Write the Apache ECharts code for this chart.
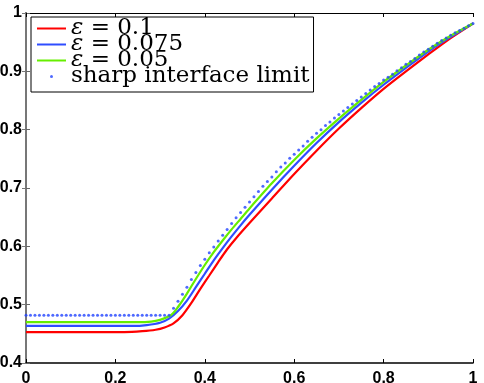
<!DOCTYPE html>
<html>
<head>
<meta charset="utf-8">
<script src="https://cdn.jsdelivr.net/npm/echarts@6/dist/echarts.min.js"></script>
<style>
  html, body { margin: 0; padding: 0; background: #fff; }
  #chart { width: 484px; height: 383px; }
</style>
</head>
<body>
<div id="chart"></div>
<script>
// values
var xTicks = [0, 0.2, 0.4, 0.6, 0.8, 1]
var yTicks = [0.4, 0.5, 0.6, 0.7, 0.8, 0.9, 1]

var names = ['ε = 0.1', 'ε = 0.075', 'ε = 0.05', 'sharp interface limit']
var colors = ['#ff0000', '#2f4dff', '#66ee00', '#2244ff']

var redX = [0, 0.22, 0.26, 0.29, 0.31, 0.33, 0.35, 0.37, 0.39, 0.41, 0.43, 0.45, 0.47, 0.50, 0.55, 0.60, 0.65, 0.70, 0.75, 0.80, 0.85, 0.90, 0.95, 1]
var redY = [0.453, 0.453, 0.4545, 0.457, 0.461, 0.468, 0.482, 0.503, 0.527, 0.550, 0.573, 0.595, 0.614, 0.640, 0.682, 0.724, 0.764, 0.802, 0.837, 0.870, 0.900, 0.929, 0.957, 0.982]

var blueX = [0, 0.24, 0.27, 0.30, 0.32, 0.34, 0.36, 0.38, 0.40, 0.42, 0.44, 0.46, 0.48, 0.50, 0.55, 0.60, 0.65, 0.70, 0.75, 0.80, 0.85, 0.90, 0.95, 1]
var blueY = [0.4635, 0.4635, 0.465, 0.469, 0.476, 0.489, 0.507, 0.530, 0.553, 0.576, 0.597, 0.617, 0.636, 0.654, 0.697, 0.738, 0.777, 0.813, 0.846, 0.877, 0.906, 0.934, 0.959, 0.982]

var greenX = [0, 0.25, 0.28, 0.30, 0.32, 0.33, 0.34, 0.35, 0.36, 0.38, 0.40, 0.42, 0.44, 0.46, 0.48, 0.50, 0.55, 0.60, 0.65, 0.70, 0.75, 0.80, 0.85, 0.90, 0.95, 1]
var greenY = [0.470, 0.470, 0.471, 0.474, 0.480, 0.486, 0.496, 0.507, 0.519, 0.544, 0.568, 0.590, 0.610, 0.629, 0.647, 0.665, 0.708, 0.748, 0.785, 0.819, 0.851, 0.882, 0.910, 0.937, 0.961, 0.982]

var sharpX = [0, 0.01, 0.02, 0.03, 0.04, 0.05, 0.06, 0.07, 0.08, 0.09,
  0.10, 0.11, 0.12, 0.13, 0.14, 0.15, 0.16, 0.17, 0.18, 0.19,
  0.20, 0.21, 0.22, 0.23, 0.24, 0.25, 0.26, 0.27, 0.28, 0.29,
  0.30, 0.31, 0.32, 0.33, 0.34, 0.35, 0.36, 0.37, 0.38, 0.39,
  0.40, 0.41, 0.42, 0.43, 0.44, 0.45, 0.46, 0.47, 0.48, 0.49,
  0.50, 0.51, 0.52, 0.53, 0.54, 0.55, 0.56, 0.57, 0.58, 0.59,
  0.60, 0.61, 0.62, 0.63, 0.64, 0.65, 0.66, 0.67, 0.68, 0.69,
  0.70, 0.71, 0.72, 0.73, 0.74, 0.75, 0.76, 0.77, 0.78, 0.79,
  0.80, 0.81, 0.82, 0.83, 0.84, 0.85, 0.86, 0.87, 0.88, 0.89,
  0.90, 0.91, 0.92, 0.93, 0.94, 0.95, 0.96, 0.97, 0.98, 0.99, 1]
var sharpY = [0.482, 0.482, 0.482, 0.482, 0.482, 0.482, 0.482, 0.482, 0.482, 0.482,
  0.482, 0.482, 0.482, 0.482, 0.482, 0.482, 0.482, 0.482, 0.482, 0.482,
  0.482, 0.482, 0.482, 0.482, 0.482, 0.482, 0.482, 0.482, 0.482, 0.482,
  0.482, 0.482, 0.482, 0.494, 0.506, 0.518, 0.530, 0.543, 0.555, 0.567,
  0.578, 0.589, 0.599, 0.609, 0.619, 0.629, 0.639, 0.649, 0.658, 0.667,
  0.676, 0.685, 0.694, 0.703, 0.711, 0.719, 0.728, 0.736, 0.743, 0.751,
  0.758, 0.765, 0.772, 0.780, 0.787, 0.794, 0.800, 0.807, 0.813, 0.820,
  0.826, 0.832, 0.838, 0.844, 0.850, 0.856, 0.862, 0.868, 0.874, 0.879,
  0.885, 0.890, 0.895, 0.901, 0.906, 0.912, 0.917, 0.922, 0.928, 0.933,
  0.938, 0.943, 0.948, 0.953, 0.957, 0.962, 0.966, 0.970, 0.974, 0.978, 0.982]

function pairs(xs, ys) {
  return xs.map(function (x, i) { return [x, ys[i]] })
}

var myChart = echarts.init(document.getElementById('chart'))

var labelFont = {
  color: '#000',
  fontFamily: 'Liberation Sans',
  fontWeight: 'bold',
  fontSize: 16
}

function lineSeries(i, xs, ys) {
  return {
    name: names[i],
    type: 'line',
    data: pairs(xs, ys),
    symbol: 'none',
    smooth: 0.25,
    lineStyle: { color: colors[i], width: 2.2 },
    itemStyle: { color: colors[i] },
    z: 2 + i
  }
}

var option = {
  animation: false,
  backgroundColor: '#fff',
  grid: { left: 26, right: 11, top: 13, bottom: 20, outerBoundsMode: 'none' },
  legend: {
    orient: 'vertical',
    left: 31,
    top: 17,
    padding: [0, 4, 4, 5],
    itemGap: -7,
    itemWidth: 29,
    itemHeight: 3,
    backgroundColor: '#fff',
    borderColor: '#000',
    borderWidth: 1,
    borderRadius: 0,
    selectedMode: false,
    data: [
      { name: names[0], itemStyle: { opacity: 0 } },
      { name: names[1], itemStyle: { opacity: 0 } },
      { name: names[2], itemStyle: { opacity: 0 } },
      { name: names[3] }
    ],
    formatter: function (name) {
      return name.replace('ε', '{e|ε}')
    },
    textStyle: {
      color: '#000',
      fontFamily: 'DejaVu Serif',
      fontSize: 23,
      rich: {
        e: { fontFamily: 'DejaVu Serif', fontStyle: 'italic', fontSize: 23, color: '#000' }
      }
    }
  },
  xAxis: [{
    type: 'value',
    min: xTicks[0],
    max: xTicks[xTicks.length - 1],
    interval: 0.2,
    position: 'bottom',
    axisLine: { lineStyle: { color: '#000', width: 1.5 } },
    axisTick: { inside: true, length: 4, lineStyle: { color: '#000' } },
    axisLabel: Object.assign({ margin: 8 }, labelFont),
    splitLine: { show: false }
  }, {
    type: 'value',
    min: xTicks[0],
    max: xTicks[xTicks.length - 1],
    interval: 0.2,
    position: 'top',
    axisLine: { lineStyle: { color: '#000', width: 1 } },
    axisTick: { inside: true, length: 4, lineStyle: { color: '#000' } },
    axisLabel: { show: false },
    splitLine: { show: false }
  }],
  yAxis: [{
    type: 'value',
    min: yTicks[0],
    max: yTicks[yTicks.length - 1],
    interval: 0.1,
    position: 'left',
    axisLine: { lineStyle: { color: '#666', width: 2 } },
    axisTick: { inside: true, length: 4, lineStyle: { color: '#666' } },
    axisLabel: Object.assign({ margin: 4 }, labelFont),
    splitLine: { show: false }
  }, {
    type: 'value',
    min: yTicks[0],
    max: yTicks[yTicks.length - 1],
    interval: 0.1,
    position: 'right',
    axisLine: { lineStyle: { color: '#777', width: 2 } },
    axisTick: { inside: true, length: 4, lineStyle: { color: '#777' } },
    axisLabel: { show: false },
    splitLine: { show: false }
  }],
  series: [
    lineSeries(0, redX, redY),
    lineSeries(1, blueX, blueY),
    lineSeries(2, greenX, greenY),
    {
      name: names[3],
      type: 'scatter',
      data: pairs(sharpX, sharpY),
      symbol: 'circle',
      symbolSize: 3,
      itemStyle: { color: colors[3] },
      z: 6
    }
  ]
}

myChart.setOption(option)
window.addEventListener('resize', function () {
  myChart.resize()
})
</script>
</body>
</html>
